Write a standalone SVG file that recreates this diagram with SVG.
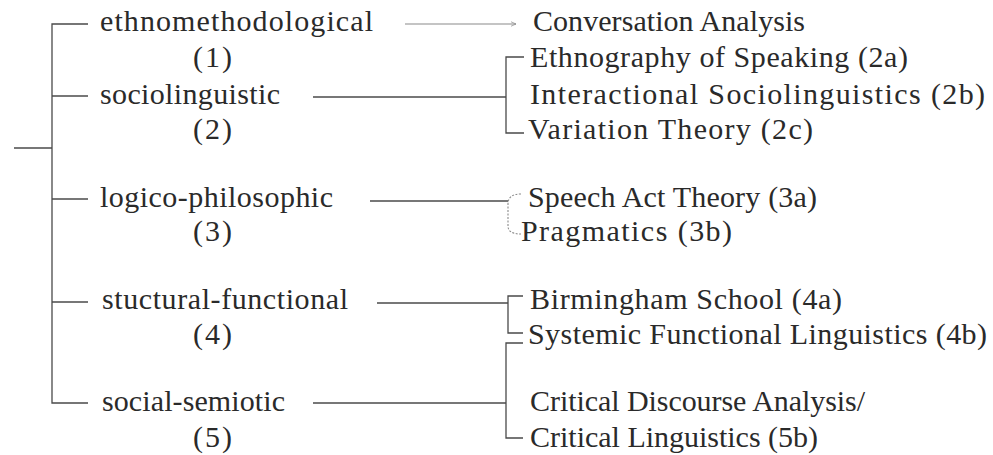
<svg xmlns="http://www.w3.org/2000/svg" width="993" height="455" viewBox="0 0 993 455">
<style>
  text { font-family: "Liberation Serif", "Times New Roman", serif; font-size: 30px; fill: #2a2a2a; }
  .ln { stroke: #4a4a4a; stroke-width: 1.3; fill: none; }
  .lt { stroke: #8a8a8a; stroke-width: 1.1; fill: none; }
</style>
<defs>
  <marker id="arr" viewBox="0 0 10 10" refX="9" refY="5" markerWidth="6" markerHeight="6" orient="auto" markerUnits="userSpaceOnUse">
    <path d="M0,1 L9,5 L0,9" fill="none" stroke="#8a8a8a" stroke-width="1.2"/>
  </marker>
</defs>
<rect width="993" height="455" fill="#ffffff"/>

<g id="connectors">
  <!-- left main bracket -->
  <path class="ln" d="M14,148 H52"/>
  <path class="ln" d="M88,24 H52 V403 H88"/>
  <path class="ln" d="M52,96 H88"/>
  <path class="ln" d="M52,199 H88"/>
  <path class="ln" d="M52,302 H88"/>
  <!-- row connectors -->
  <path class="lt" d="M405,24 H516" marker-end="url(#arr)"/>
  <path class="ln" d="M313,97 H506"/>
  <path class="ln" d="M370,201 H508"/>
  <path class="ln" d="M377,303 H508"/>
  <path class="ln" d="M313,403 H506"/>
  <!-- bracket 2 -->
  <path class="ln" d="M524,57 H506 V133 H524"/>
  <!-- bracket 3 -->
  <path class="lt" d="M521,194 Q508,194 508,204 V226 Q508,234 521,234" stroke-dasharray="2 1.5"/>
  <!-- bracket 4 -->
  <path class="ln" d="M523,296 H508 V333 H523"/>
  <!-- bracket 5 -->
  <path class="ln" d="M523,343 H506 V438 H523"/>
</g>

<g id="n-ethno"><text x="100" y="31" textLength="273" lengthAdjust="spacing">ethnomethodological</text></g>
<g id="n-1"><text x="193" y="67" textLength="39" lengthAdjust="spacing">(1)</text></g>
<g id="n-socio"><text x="100" y="104" textLength="180" lengthAdjust="spacing">sociolinguistic</text></g>
<g id="n-2"><text x="193" y="139" textLength="39" lengthAdjust="spacing">(2)</text></g>
<g id="n-logico"><text x="100" y="207" textLength="233" lengthAdjust="spacing">logico-philosophic</text></g>
<g id="n-3"><text x="193" y="241" textLength="39" lengthAdjust="spacing">(3)</text></g>
<g id="n-stuct"><text x="102" y="309" textLength="246" lengthAdjust="spacing">stuctural-functional</text></g>
<g id="n-4"><text x="193" y="344" textLength="39" lengthAdjust="spacing">(4)</text></g>
<g id="n-social"><text x="102" y="411" textLength="183" lengthAdjust="spacing">social-semiotic</text></g>
<g id="n-5"><text x="193" y="447" textLength="39" lengthAdjust="spacing">(5)</text></g>

<g id="n-ca"><text x="533" y="31" textLength="272" lengthAdjust="spacing">Conversation Analysis</text></g>
<g id="n-2a"><text x="530" y="67" textLength="378" lengthAdjust="spacing">Ethnography of Speaking (2a)</text></g>
<g id="n-2b"><text x="530" y="104" textLength="455" lengthAdjust="spacing">Interactional Sociolinguistics (2b)</text></g>
<g id="n-2c"><text x="528" y="139" textLength="285" lengthAdjust="spacing">Variation Theory (2c)</text></g>
<g id="n-3a"><text x="528" y="207" textLength="289" lengthAdjust="spacing">Speech Act Theory (3a)</text></g>
<g id="n-3b"><text x="521" y="241" textLength="211" lengthAdjust="spacing">Pragmatics (3b)</text></g>
<g id="n-4a"><text x="530" y="309" textLength="312" lengthAdjust="spacing">Birmingham School (4a)</text></g>
<g id="n-4b"><text x="528" y="344" textLength="459" lengthAdjust="spacing">Systemic Functional Linguistics (4b)</text></g>
<g id="n-5a"><text x="530" y="411" textLength="335" lengthAdjust="spacing">Critical Discourse Analysis/</text></g>
<g id="n-5b"><text x="530" y="447" textLength="288" lengthAdjust="spacing">Critical Linguistics (5b)</text></g>
</svg>
